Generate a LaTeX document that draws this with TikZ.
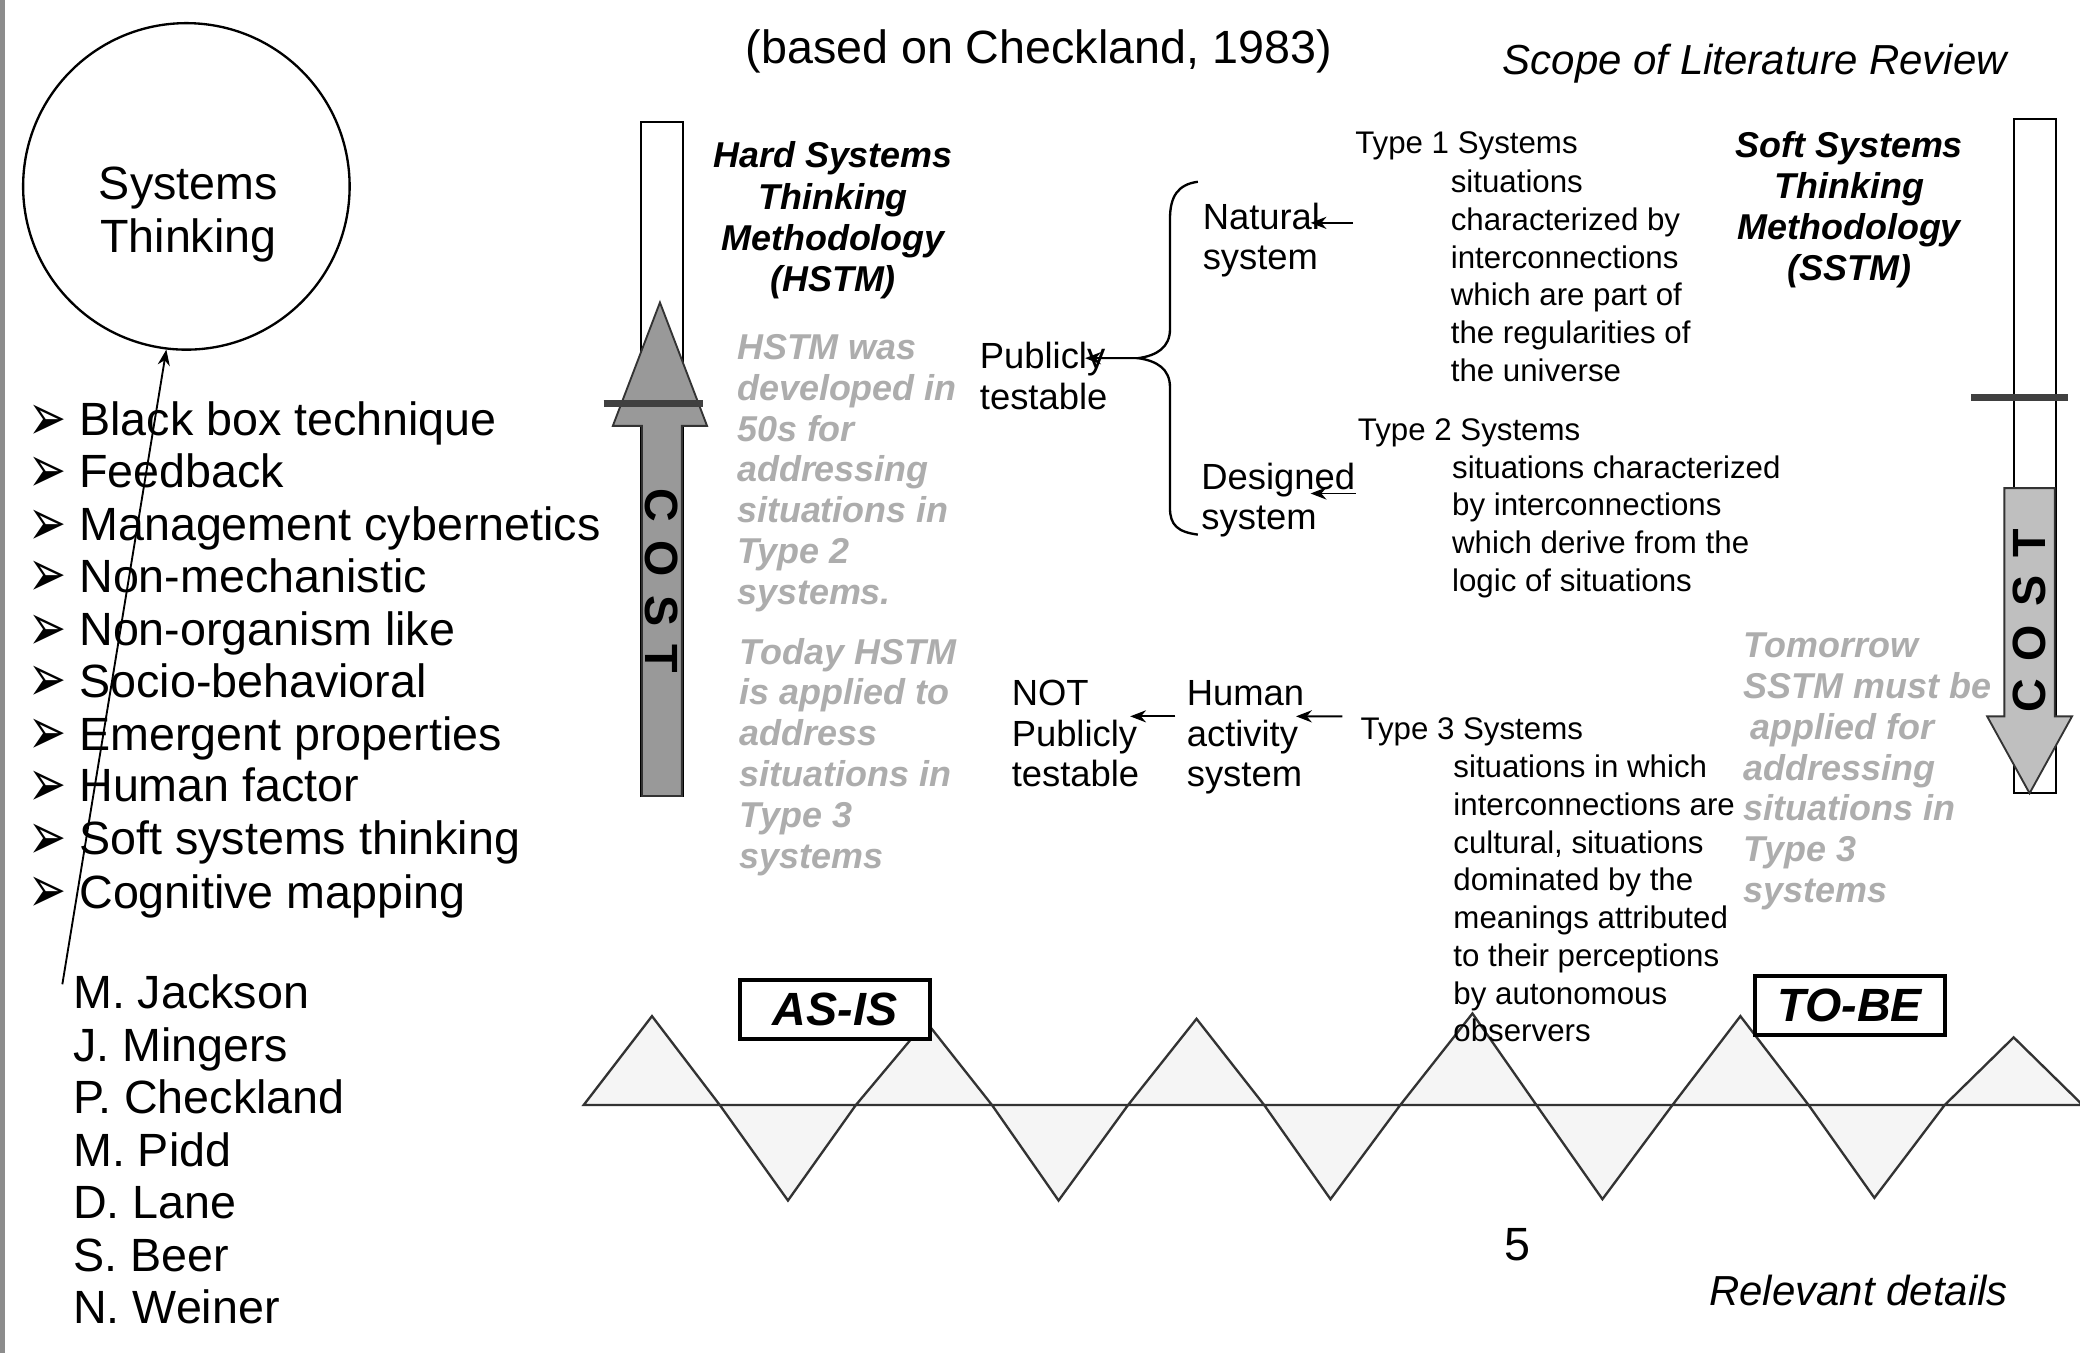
\documentclass[tikz,border=0pt]{standalone}
\usepackage{fontspec}
\usepackage{graphicx}
\setmainfont{Liberation Sans}
\newfontfamily\dingfont{DejaVu Sans}
\usetikzlibrary{arrows.meta,calc}

\newcommand{\bul}{\makebox[9.7pt][l]{\hspace*{-1.2pt}\raisebox{-1pt}{\scalebox{1.3}[1.9]{\dingfont\fontsize{7.5}{9}\selectfont ➢}}}}
\newcommand{\costgap}{\hspace{3.9pt}}

\tikzstyle{bigtext}=[inner sep=0pt,font=\fontsize{10}{11.3}\selectfont]
\tikzstyle{headtext}=[inner sep=0pt,align=center,anchor=north,font=\fontsize{7.7}{8.8}\selectfont\bfseries\itshape]
\tikzstyle{greytext}=[inner sep=0pt,align=left,anchor=north west,text=black!32,font=\fontsize{7.7}{8.76}\selectfont\bfseries\itshape]
\tikzstyle{midtext}=[inner sep=0pt,align=left,anchor=north west,font=\fontsize{7.8}{8.7}\selectfont]
\tikzstyle{smalltext}=[inner sep=0pt,align=left,anchor=north west,font=\fontsize{6.7}{8.08}\selectfont]
\tikzstyle{tagbox}=[draw,line width=0.8pt,fill=white,minimum width=1.43cm,minimum height=0.44cm,inner sep=0pt,font=\fontsize{10}{12}\selectfont\bfseries\itshape]
\tikzstyle{tribox}=[draw=black!80,fill=black!4,line width=0.5pt]
\tikzstyle{arrowline}=[-{Stealth[length=3.4pt,width=2.6pt]},line width=0.4pt]
\tikzstyle{costtext}=[inner sep=0pt,font=\fontsize{10}{12}\selectfont\bfseries]

\begin{document}
\begin{tikzpicture}[x=0.01cm,y=-0.01cm]
\useasboundingbox (0,0) rectangle (1568,1020);
\fill[white] (0,0) rectangle (1568,1020);
\fill[black!45] (0,0) rectangle (4,1020);

% systems thinking
\node[circle,draw,line width=0.5pt,minimum size=2.46cm,inner sep=0pt] (circ) at (140.5,140.5) {};
\node[bigtext,align=center,font=\fontsize{10}{11.4}\selectfont] (sysname) at (142,162) {Systems\\Thinking};

% bullet list
\node[bigtext,anchor=base west] (b1) at (25,328.5) {\bul Black box technique};
\node[bigtext,anchor=base west] (b2) at (25,367.5) {\bul Feedback};
\node[bigtext,anchor=base west] (b3) at (25,407.5) {\bul Management cybernetics};
\node[bigtext,anchor=base west] (b4) at (25,446.5) {\bul Non-mechanistic};
\node[bigtext,anchor=base west] (b5) at (25,486.5) {\bul Non-organism like};
\node[bigtext,anchor=base west] (b6) at (25,525.5) {\bul Socio-behavioral};
\node[bigtext,anchor=base west] (b7) at (25,565.5) {\bul Emergent properties};
\node[bigtext,anchor=base west] (b8) at (25,604.5) {\bul Human factor};
\node[bigtext,anchor=base west] (b9) at (25,644.5) {\bul Soft systems thinking};
\node[bigtext,anchor=base west] (b10) at (25,684.5) {\bul Cognitive mapping};

% authors
\node[bigtext,anchor=base west] (n1) at (54.5,760.5) {M. Jackson};
\node[bigtext,anchor=base west] (n2) at (54.5,800.5) {J. Mingers};
\node[bigtext,anchor=base west] (n3) at (54.5,839.5) {P. Checkland};
\node[bigtext,anchor=base west] (n4) at (54.5,879.5) {M. Pidd};
\node[bigtext,anchor=base west] (n5) at (54.5,918.5) {D. Lane};
\node[bigtext,anchor=base west] (n6) at (54.5,958.5) {S. Beer};
\node[bigtext,anchor=base west] (n7) at (54.5,997.5) {N. Weiner};
\coordinate (lineend) at (47,742);
\draw[arrowline] (lineend) -- (circ.263);

% titles
\node[bigtext,anchor=base] (basedon) at (783,47.5) {(based on Checkland, 1983)};
\node[inner sep=0pt,anchor=base,font=\fontsize{9}{11}\selectfont\itshape] (scope) at (1323,56.3) {Scope of Literature Review};
\node[headtext] (hstm) at (628,106.3) {Hard Systems\\Thinking\\Methodology\\(HSTM)};
\node[headtext] (sstm) at (1394,98.3) {Soft Systems\\Thinking\\Methodology\\(SSTM)};

% cost up
\draw[line width=0.4pt,fill=white] (483,92) rectangle (515,600);
\filldraw[fill=black!40,draw=black!80,line width=0.4pt] (484,600) -- (484,321) -- (462,321) -- (497.5,228) -- (533,321) -- (514,321) -- (514,600) -- cycle;
\draw[line width=1.5pt,black!75] (455,304) -- (530,304);
\node[costtext,rotate=-90] (costl) at (499,438) {C\costgap O\costgap S\costgap T};

% cost down
\draw[line width=0.4pt,fill=white] (1518,90) rectangle (1550,598);
\draw[line width=1.5pt,black!75] (1486,300) -- (1559,300);
\filldraw[fill=black!25,draw=black!80,line width=0.4pt] (1511,368) -- (1549,368) -- (1549,540) -- (1562,540) -- (1530,598) -- (1498,540) -- (1511,540) -- cycle;
\node[costtext,rotate=90] (costr) at (1530,468) {C\costgap O\costgap S\costgap T};

% notes
\node[greytext] (hstmnote) at (555,251.3) {HSTM was\\developed in\\50s for\\addressing\\situations in\\Type 2\\systems.};
\node[greytext] (todaynote) at (557,480.3) {Today HSTM\\is applied to\\address\\situations in\\Type 3\\systems};
\node[greytext] (tomnote) at (1314,476.3) {Tomorrow\\SSTM must be\\\hspace*{1.5pt}applied for\\addressing\\situations in\\Type 3\\systems};

% system kinds
\node[midtext] (pub) at (738,257.2) {Publicly\\testable};
\node[midtext] (nat) at (906,152.2) {Natural\\system};
\node[midtext] (des) at (905,348.2) {Designed\\system};
\node[midtext] (notp) at (762,512.2) {NOT\\Publicly\\testable};
\node[midtext] (hum) at (894,512.2) {Human\\activity\\system};
\draw[line width=0.5pt] (903,137) .. controls (888,139) and (882,148) .. (882,165) -- (882,248) .. controls (882,262) and (872,268) .. (858,270) .. controls (872,272) and (882,278) .. (882,292) -- (882,383) .. controls (882,396) and (888,401) .. (903,403);
\coordinate (bracetip) at (858,270);

% types
\node[smalltext] (t1) at (1021,98.6) {Type 1 Systems};
\node[smalltext] (d1) at (1093,127.6) {situations\\characterized by\\interconnections\\which are part of\\the regularities of\\the universe};
\node[smalltext] (t2) at (1023,314.6) {Type 2 Systems};
\node[smalltext] (d2) at (1094,342.6) {situations characterized\\by interconnections\\which derive from the\\logic of situations};
\node[smalltext] (t3) at (1025,540.6) {Type 3 Systems};

% arrows
\draw[arrowline] (bracetip) -- ($(pub.north west)+(80,12.8)$);
\draw[arrowline] ($(t1.north west)+(-1,69.4)$) -- ($(nat.north west)+(82,15.8)$);
\draw[arrowline] ($(t2.north west)+(-1,57.4)$) -- ($(des.north west)+(83,23.8)$);
\draw[arrowline] ($(t3.north west)+(-13,-0.6)$) -- ($(hum.north west)+(83,27.8)$);
\draw[arrowline] ($(hum.north west)+(-8,27.8)$) -- ($(notp.north west)+(90,27.8)$);

% zig zag
\filldraw[tribox] (440,833) -- (491.5,766) -- (542.6,833) -- cycle;
\filldraw[tribox] (542.6,833) -- (594,905) -- (645.2,833) -- cycle;
\filldraw[tribox] (645.2,833) -- (698,770) -- (747.8,833) -- cycle;
\filldraw[tribox] (747.8,833) -- (798,905) -- (850.4,833) -- cycle;
\filldraw[tribox] (850.4,833) -- (902,768) -- (953,833) -- cycle;
\filldraw[tribox] (953,833) -- (1003,904) -- (1055.6,833) -- cycle;
\filldraw[tribox] (1055.6,833) -- (1110,764) -- (1158.2,833) -- cycle;
\filldraw[tribox] (1158.2,833) -- (1208,904) -- (1260.8,833) -- cycle;
\filldraw[tribox] (1260.8,833) -- (1312,766) -- (1363.4,833) -- cycle;
\filldraw[tribox] (1363.4,833) -- (1413,903) -- (1466,833) -- cycle;
\filldraw[tribox] (1466,833) -- (1518,782) -- (1570,833) -- cycle;
\node[smalltext] (d3) at (1095,568.6) {situations in which\\interconnections are\\cultural, situations\\dominated by the\\meanings attributed\\to their perceptions\\by autonomous\\observers};
\node[tagbox] (asis) at (629.5,761) {AS-IS};
\node[tagbox] (tobe) at (1394.5,758) {TO-BE};

% footer
\node[bigtext,anchor=base] (pagenum) at (1144,950.5) {5};
\node[inner sep=0pt,anchor=base,font=\fontsize{9}{11}\selectfont\itshape] (relev) at (1401,984) {Relevant details};
\end{tikzpicture}
\end{document}
